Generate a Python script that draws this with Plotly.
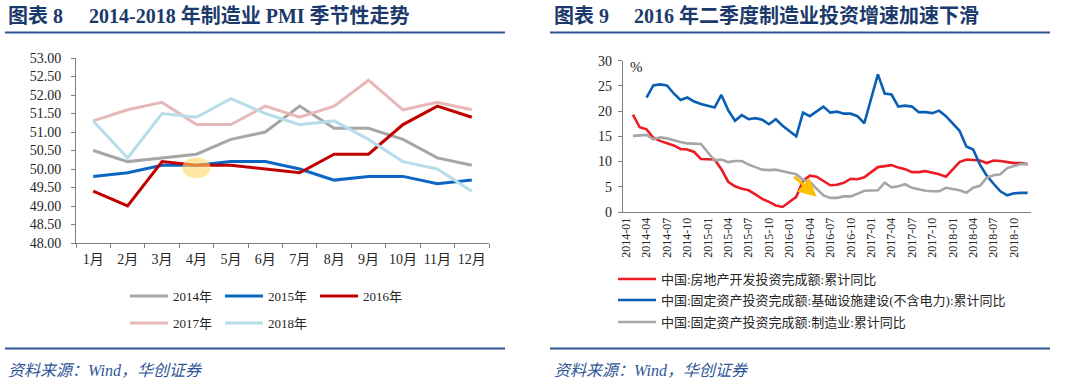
import plotly.graph_objects as go

# ---------------- Left chart data (PMI) ----------------
months_cn = ["1月", "2月", "3月", "4月", "5月", "6月", "7月", "8月", "9月", "10月", "11月", "12月"]
pmi_2014 = [50.5, 50.2, 50.3, 50.4, 50.8, 51.0, 51.7, 51.1, 51.1, 50.8, 50.3, 50.1]
pmi_2015 = [49.8, 49.9, 50.1, 50.1, 50.2, 50.2, 50.0, 49.7, 49.8, 49.8, 49.6, 49.7]
pmi_2016 = [49.4, 49.0, 50.2, 50.1, 50.1, 50.0, 49.9, 50.4, 50.4, 51.2, 51.7, 51.4]
pmi_2017 = [51.3, 51.6, 51.8, 51.2, 51.2, 51.7, 51.4, 51.7, 52.4, 51.6, 51.8, 51.6]
pmi_2018 = [51.3, 50.3, 51.5, 51.4, 51.9, 51.5, 51.2, 51.3, 50.8, 50.2, 50.0, 49.4]
left_yticks = [48.0, 48.5, 49.0, 49.5, 50.0, 50.5, 51.0, 51.5, 52.0, 52.5, 53.0]

# ---------------- Right chart data (investment, cumulative YoY %) ----------------
years = [2014, 2015, 2016, 2017, 2018]
dates = [f"{y}-{m:02d}" for y in years for m in range(1, 13)]
real_estate = [
    None, 19.3, 16.8, 16.4, 14.7, 14.1, 13.7, 13.2, 12.5, 12.4, 11.9, 10.5,
    None, 10.4, 8.5, 6.0, 5.1, 4.6, 4.3, 3.5, 2.6, 2.0, 1.3, 1.0,
    None, 3.0, 6.2, 7.2, 7.0, 6.1, 5.3, 5.4, 5.8, 6.6, 6.5, 6.9,
    None, 8.9, 9.1, 9.3, 8.8, 8.5, 7.9, 7.9, 8.1, 7.8, 7.5, 7.0,
    None, 9.9, 10.4, 10.3, 10.2, 9.7, 10.2, 10.1, 9.9, 9.7, 9.7, 9.5,
]
infrastructure = [
    None, None, None, 22.7, 25.1, 25.3, 25.1, 23.5, 22.2, 22.7, 21.9, 21.4,
    None, 20.7, 23.2, 20.2, 18.1, 19.2, 18.4, 18.6, 18.3, 17.4, 18.4, 17.1,
    None, 15.0, 19.7, 19.0, 20.0, 20.9, 19.7, 19.9, 19.5, 19.5, 19.0, 17.6,
    None, 27.3, 23.5, 23.3, 20.9, 21.1, 20.9, 19.8, 19.8, 19.6, 20.1, 19.0,
    None, 16.1, 13.0, 12.4, 9.4, 7.2, 5.6, 4.1, 3.3, 3.7, 3.8, 3.8,
]
manufacturing = [
    None, 15.1, 15.2, 15.3, 14.4, 14.8, 14.6, 14.2, 13.9, 13.6, 13.5, 13.5,
    None, 10.2, 10.4, 9.9, 10.1, 10.1, 9.4, 8.9, 8.4, 8.3, 8.4, 8.1,
    None, 7.5, 6.4, 6.0, 4.6, 3.3, 2.8, 2.8, 3.1, 3.1, 3.6, 4.2,
    None, 4.3, 5.8, 4.9, 5.1, 5.5, 4.8, 4.5, 4.2, 4.1, 4.1, 4.8,
    None, 4.3, 3.8, 4.8, 5.2, 6.8, 7.3, 7.5, 8.7, 9.1, 9.5, 9.5,
]
right_yticks = [0, 5, 10, 15, 20, 25, 30]
right_label_dates = [d for d in dates if d[-2:] in ("01", "04", "07", "10")]

W, H = 1080, 385
def px(x):
    return x / W
def py(y):
    return 1 - y / H

SERIF = "Liberation Serif, Noto Sans CJK SC, serif"
TXT = "#262626"
AXC = "#7f7f7f"
NAVY = "#1b3a6b"
RULE = "#2f5597"

fig = go.Figure()

left_series = [
    ("2014年", pmi_2014, "#a6a6a6", "legend"),
    ("2015年", pmi_2015, "#0b66c3", "legend"),
    ("2016年", pmi_2016, "#c00000", "legend"),
    ("2017年", pmi_2017, "#e6b9b8", "legend2"),
    ("2018年", pmi_2018, "#b7dde8", "legend2"),
]
for name, vals, col, lg in left_series:
    fig.add_trace(go.Scatter(x=months_cn, y=vals, name=name, mode="lines",
                             line=dict(color=col, width=3), xaxis="x", yaxis="y",
                             legend=lg, hoverinfo="skip"))

right_series = [
    ("中国:房地产开发投资完成额:累计同比", real_estate, "#ec1c24", "legend3"),
    ("中国:固定资产投资完成额:基础设施建设(不含电力):累计同比", infrastructure, "#0a5fb4", "legend4"),
    ("中国:固定资产投资完成额:制造业:累计同比", manufacturing, "#a6a6a6", "legend5"),
]
for name, vals, col, lg in right_series:
    fig.add_trace(go.Scatter(x=dates, y=vals, name=name, mode="lines", connectgaps=True,
                             line=dict(color=col, width=2.6), xaxis="x2", yaxis="y2",
                             legend=lg, hoverinfo="skip"))

tickfont = dict(family=SERIF, size=14, color=TXT)

fig.update_layout(
    width=W, height=H, margin=dict(l=0, r=0, t=0, b=0, autoexpand=False),
    paper_bgcolor="white", plot_bgcolor="white", showlegend=True,
    xaxis=dict(domain=[px(76), px(489)], type="category", categoryarray=months_cn,
               range=[-0.5, 11.5],
               tickson="boundaries", ticks="outside", ticklen=4, tickcolor=AXC,
               tickangle=0, ticklabelstandoff=3,
               showline=True, linecolor=AXC, linewidth=1, showgrid=False, zeroline=False,
               tickfont=dict(family=SERIF, size=14, color=TXT), anchor="y", fixedrange=True),
    yaxis=dict(domain=[py(243), py(58)], range=[48, 53], tickvals=left_yticks,
               tickformat=".2f", ticks="outside", ticklen=4, tickcolor=AXC,
               ticklabelstandoff=7,
               showline=True, linecolor=AXC, linewidth=1, showgrid=False, zeroline=False,
               tickfont=tickfont, anchor="x", fixedrange=True),
    xaxis2=dict(domain=[px(622.7), px(1031)], type="category", categoryarray=dates,
                range=[-0.5, 59.5], tickmode="array", tickvals=right_label_dates,
                ticktext=right_label_dates, tickangle=-90, ticks="", showline=True,
                linecolor=AXC, linewidth=1, showgrid=False, zeroline=False,
                tickfont=dict(family=SERIF, size=12, color=TXT), anchor="y2", fixedrange=True),
    xaxis3=dict(domain=[px(622.7), px(1031)], overlaying="x2", anchor="y2", side="bottom",
                range=[-0.5, 59.5], tickmode="linear", tick0=-0.5, dtick=3,
                showticklabels=False, ticks="outside", ticklen=4, tickcolor=AXC,
                showline=False, showgrid=False, zeroline=False, fixedrange=True),
    yaxis2=dict(domain=[py(212), py(60.7)], range=[0, 30], tickvals=right_yticks,
                ticks="outside", ticklen=4, tickcolor=AXC, ticklabelstandoff=3,
                showline=True, linecolor=AXC, linewidth=1, showgrid=False, zeroline=False,
                tickfont=tickfont, anchor="x2", fixedrange=True),
)

legend_font = dict(family=SERIF, size=13, color=TXT)
def lg(x, y, ew=None):
    d = dict(x=px(x), y=py(y), xanchor="left", yanchor="middle", orientation="h",
             bgcolor="rgba(0,0,0,0)", borderwidth=0, font=legend_font, itemwidth=38,
             itemclick=False, itemdoubleclick=False)
    if ew is not None:
        d.update(entrywidth=ew, entrywidthmode="pixels")
    return d

fig.update_layout(legend=lg(125, 296, 42), legend2=lg(125, 323, 42),
                  legend3=lg(613, 279), legend4=lg(613, 300), legend5=lg(613, 322))

# Orange highlight on left chart (April)
fig.add_shape(type="circle", xref="x", yref="y", x0=3 - 0.41, x1=3 + 0.41,
              y0=50.03 - 0.28, y1=50.03 + 0.28, fillcolor="#ffd966", opacity=0.6,
              line=dict(width=0), layer="above")

# Orange arrow on right chart
fig.add_annotation(xref="x2", yref="y2", axref="x2", ayref="y2", x=28.0, y=3.0, ax=24.5, ay=7.3,
                   text="", showarrow=True, arrowhead=2, arrowsize=1.2, arrowwidth=3,
                   arrowcolor="#ffc000")

# "%" unit label
fig.add_annotation(xref="paper", yref="paper", x=px(628), y=py(67), xanchor="left", yanchor="middle",
                   text="%", showarrow=False, font=dict(family=SERIF, size=15, color=TXT))

# Titles
title_font = dict(family=SERIF, size=20, color=NAVY)
for x, t in [(6, "<b>图表 8</b>"), (87, "<b>2014-2018 年制造业 PMI 季节性走势</b>"),
             (552, "<b>图表 9</b>"), (632, "<b>2016 年二季度制造业投资增速加速下滑</b>")]:
    fig.add_annotation(xref="paper", yref="paper", x=px(x), y=py(16), xanchor="left",
                       yanchor="middle", text=t, showarrow=False, font=title_font)

# Source lines
src_font = dict(family=SERIF, size=16, color="#2f5597")
for x in [6, 552]:
    fig.add_annotation(xref="paper", yref="paper", x=px(x), y=py(370), xanchor="left",
                       yanchor="middle", text="<i>资料来源：Wind，华创证券</i>",
                       showarrow=False, font=src_font)

# Rules
for x0, x1 in [(5, 505), (550, 1050)]:
    for yy in [32.5, 348.5]:
        fig.add_shape(type="line", xref="paper", yref="paper", x0=px(x0), x1=px(x1),
                      y0=py(yy), y1=py(yy), line=dict(color=RULE, width=2))

fig.write_html("out.html", config={"displayModeBar": False},
               post_script="document.body.style.margin='0';")
